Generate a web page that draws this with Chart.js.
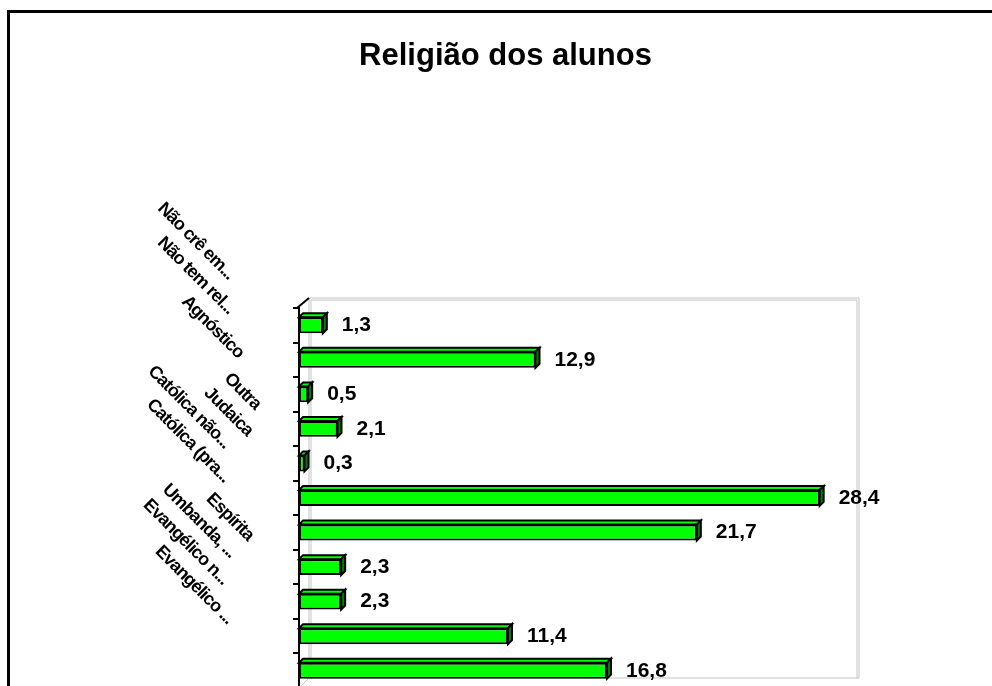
<!DOCTYPE html>
<html>
<head>
<meta charset="utf-8">
<script src="https://cdn.jsdelivr.net/npm/chart.js@4"></script>
<style>
  html, body { margin: 0; padding: 0; background: #fff; overflow: hidden; }
  #wrap { position: absolute; left: 0; top: 0; width: 992px; height: 700px; }
  #frame { position: absolute; left: 7px; top: 10px; width: 994px; height: 700px;
           border: 3px solid #000; pointer-events: none; }
</style>
</head>
<body>
<div id="wrap"><canvas id="myChart" width="992" height="700"></canvas></div>
<div id="frame"></div>
<script>
// categories, top to bottom as in the picture
const religioes = ["Não crê em...", "Não tem rel...", "Agnóstico", "Outra", "Judaica",
    "Católica não...", "Católica (pra...", "Espírita", "Umbanda, ...", "Evangélico n...", "Evangélico ..."]
const percentuais = [1.3, 12.9, 0.5, 2.1, 0.3, 28.4, 21.7, 2.3, 2.3, 11.4, 16.8]
const xMax = 30
const titulo = "Religião dos alunos"

const fonte = "Arial, 'Liberation Sans', sans-serif"

// fake 3D look: back wall, top and side faces, labels
const efeito3d = {
    id: "efeito3d",
    beforeDatasetsDraw(chart) {
        const ctx = chart.ctx
        const a = chart.chartArea
        const d = 10
        ctx.save()
        // title, centred on the outer frame (which runs past the right edge)
        ctx.fillStyle = "#000"
        ctx.font = "bold 31px " + fonte
        ctx.textAlign = "center"
        ctx.textBaseline = "alphabetic"
        ctx.fillText(titulo, 505.5, 65)

        ctx.strokeStyle = "#c4c4c4"
        ctx.lineWidth = 1
        for (const o of [0, 2]) {
            ctx.beginPath()
            ctx.moveTo(a.left + d + o, a.bottom - d)
            ctx.lineTo(a.left + d + o, a.top - d + o)
            ctx.lineTo(a.right + d - o, a.top - d + o)
            ctx.lineTo(a.right + d - o, a.bottom - d)
            ctx.stroke()
        }
        ctx.beginPath()
        ctx.moveTo(a.left + d, a.bottom - d)
        ctx.lineTo(a.right + d, a.bottom - d)
        ctx.moveTo(a.left, a.bottom)
        ctx.lineTo(a.left + d, a.bottom - d)
        ctx.stroke()
        ctx.strokeStyle = "#000"
        ctx.lineWidth = 2
        ctx.beginPath()
        ctx.moveTo(a.left - 2, a.top)
        ctx.lineTo(a.left + d, a.top - d)
        ctx.stroke()
        ctx.restore()
    },
    afterDatasetsDraw(chart) {
        const ctx = chart.ctx
        const meta = chart.getDatasetMeta(0)
        const d = 4
        ctx.save()
        ctx.lineWidth = 2
        ctx.strokeStyle = "#000"
        meta.data.forEach((bar, i) => {
            const top = bar.y - bar.height / 2
            const bottom = bar.y + bar.height / 2
            const left = bar.base
            const right = bar.x
            // top face
            ctx.beginPath()
            ctx.moveTo(left, top)
            ctx.lineTo(left + d, top - d)
            ctx.lineTo(right + d, top - d)
            ctx.lineTo(right, top)
            ctx.closePath()
            ctx.fillStyle = "#00ff00"
            ctx.fill()
            ctx.stroke()
            // side face
            ctx.beginPath()
            ctx.moveTo(right, top)
            ctx.lineTo(right + d, top - d)
            ctx.lineTo(right + d, bottom - d)
            ctx.lineTo(right, bottom)
            ctx.closePath()
            ctx.fillStyle = "#008000"
            ctx.fill()
            ctx.stroke()
            // value label
            ctx.fillStyle = "#000"
            ctx.font = "bold 21px " + fonte
            ctx.textAlign = "left"
            ctx.textBaseline = "middle"
            ctx.fillText(percentuais[i].toFixed(1).replace(".", ","), right + d + 15, bar.y)
        })
        ctx.restore()
    },
    afterDraw(chart) {
        // rotated category labels, placed like the old spreadsheet did
        const ctx = chart.ctx
        const y = chart.scales.y
        const a = chart.chartArea
        ctx.save()
        ctx.font = "bold 18px " + fonte
        ctx.letterSpacing = "-0.9px"
        ctx.fillStyle = "#000"
        ctx.textAlign = "center"
        ctx.textBaseline = "middle"
        religioes.forEach((txt, i) => {
            const c = y.getPixelForValue(i)
            const L = ctx.measureText(txt).width + 12
            const cx = a.left - 11 - 0.82 * L
            const cy = c + 8 - 0.82 * L
            ctx.save()
            ctx.translate(cx, cy)
            ctx.rotate(Math.PI / 4)
            ctx.fillText(txt, 0, 0)
            ctx.restore()
        })
        ctx.restore()
    }
}

const ctx = document.getElementById("myChart")
new Chart(ctx, {
    type: "bar",
    data: {
        labels: religioes,
        datasets: [{
            label: "Religião",
            data: percentuais,
            backgroundColor: "#00ff00",
            borderColor: "#000",
            borderWidth: 2,
            borderSkipped: false,
            barPercentage: 0.46,
            categoryPercentage: 1
        }]
    },
    options: {
        indexAxis: "y",
        responsive: false,
        animation: false,
        layout: {
            padding: { left: 293, right: 143, top: 308, bottom: 12 }
        },
        plugins: {
            legend: { display: false },
            tooltip: { enabled: false },
            title: { display: false }
        },
        scales: {
            x: {
                display: false,
                min: 0,
                max: xMax
            },
            y: {
                ticks: { display: false },
                grid: {
                    drawOnChartArea: false,
                    drawTicks: true,
                    tickLength: 6,
                    color: "#000",
                    lineWidth: 2
                },
                border: { display: true, color: "#000", width: 2 }
            }
        }
    },
    plugins: [efeito3d]
})
</script>
</body>
</html>
